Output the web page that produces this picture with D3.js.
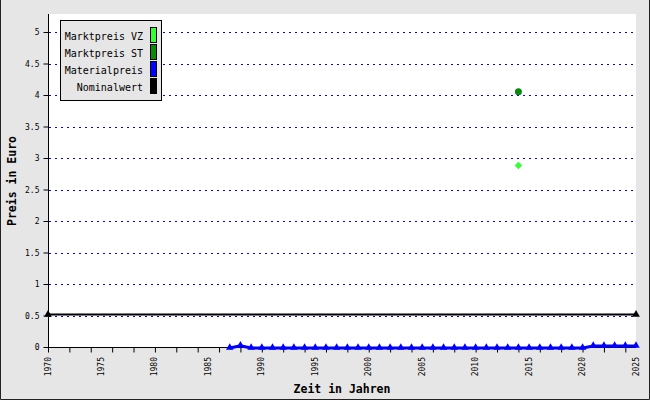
<!DOCTYPE html>
<html><head><meta charset="utf-8">
<script src="https://cdn.jsdelivr.net/npm/d3@7"></script>
<style>html,body{margin:0;padding:0;background:#fff}svg{display:block}</style>
</head><body>
<svg id="c" width="650" height="400"></svg>
<script>
// ---- data ----
const yTicks = [0, 0.5, 1, 1.5, 2, 2.5, 3, 3.5, 4, 4.5, 5];
const yTickLabels = ["0", "0.5", "1", "1.5", "2", "2.5", "3", "3.5", "4", "4.5", "5"];
const xLabelYears = [1970, 1975, 1980, 1985, 1990, 1995, 2000, 2005, 2010, 2015, 2020, 2025];
const xTickYears = [1970,1972,1974,1976,1978,1980,1982,1984,1986,1988,1990,1992,1994,1996,1998,2000,2002,2004,2006,2008,2010,2012,2014,2016,2018,2020,2022,2024];
const seriesNames = ["Marktpreis VZ", "Marktpreis ST", "Materialpreis", "Nominalwert"];
const seriesColors = ["#33ff33", "#0a8a0a", "#0000ff", "#000000"];
const vzYears = [2014];
const vzValues = [2.88];
const stYears = [2014];
const stValues = [4.05];
const matYears = [1987,1988,1989,1990,1991,1992,1993,1994,1995,1996,1997,1998,1999,2000,2001,2002,2003,2004,2005,2006,2007,2008,2009,2010,2011,2012,2013,2014,2015,2016,2017,2018,2019,2020,2021,2022,2023,2024,2025];
const matValues = [0.0,0.035,0.0,0.0,0.0,0.0,0.0,0.0,0.0,0.0,0.0,0.0,0.0,0.0,0.0,0.0,0.0,0.0,0.0,0.0,0.0,0.0,0.0,0.0,0.0,0.0,0.0,0.0,0.0,0.0,0.0,0.0,0.0,0.0,0.03,0.03,0.03,0.03,0.03];
const nomYears = [1970, 2025];
const nomValues = [0.5, 0.5];

// ---- drawing ----
const svg = d3.select("#c");
const W = 650, H = 400;
const mono = "'DejaVu Sans Mono', 'Liberation Mono', monospace";

svg.append("rect").attr("width", W).attr("height", H).attr("fill", "#e6e6e6");
svg.append("path").attr("d", `M0.5,0 V${H-0.5} H${W-0.5} V0`).attr("fill", "none").attr("stroke", "#222");

const x = d3.scaleLinear().domain([1970, 2025]).range([48, 636]);
const y = d3.scaleLinear().domain([0, 5.286]).range([347, 14]);

svg.append("rect").attr("x", 48).attr("y", 14).attr("width", 636 - 48).attr("height", 347 - 14).attr("fill", "#fff");

// gridlines
svg.append("g").selectAll("line").data(yTicks.filter(d => d > 0)).join("line")
  .attr("x1", 49).attr("x2", 636)
  .attr("y1", d => Math.round(y(d)) + 0.5).attr("y2", d => Math.round(y(d)) + 0.5)
  .attr("stroke", "#0000ff").attr("stroke-width", 1).attr("stroke-dasharray", "2,4")
  .attr("shape-rendering", "crispEdges");

// y axis
const yAxis = d3.axisLeft(y).tickValues(yTicks).tickSize(5).tickPadding(4)
  .tickFormat((d, i) => yTickLabels[i]);
const gy = svg.append("g").attr("transform", "translate(48.5,0)").call(yAxis);
gy.select(".domain").attr("stroke", "#000").attr("d", `M0,${y.range()[1]}V${y.range()[0]}`);
gy.selectAll(".tick line").attr("stroke", "#000");
gy.selectAll(".tick text").attr("font-family", mono).attr("font-size", 8).attr("fill", "#000");

// x axis
const xAxis = d3.axisBottom(x).tickValues(xTickYears).tickSize(5).tickFormat("");
const gx = svg.append("g").attr("transform", "translate(0,347.5)").call(xAxis);
gx.select(".domain").attr("stroke", "#000").attr("d", `M${x.range()[0]},0H${x.range()[1]}`);
gx.selectAll(".tick line").attr("stroke", "#000");
svg.append("g").selectAll("text").data(xLabelYears).join("text")
  .attr("transform", d => `translate(${x(d)},357) rotate(-90)`)
  .attr("dy", "0.32em")
  .attr("text-anchor", "end")
  .attr("font-family", mono).attr("font-size", 8).attr("fill", "#000")
  .text(d => d);

// axis titles
svg.append("text").attr("x", 342).attr("y", 393).attr("text-anchor", "middle")
  .attr("font-family", mono).attr("font-weight", "bold").attr("font-size", 11.5).attr("fill", "#000")
  .text("Zeit in Jahren");
svg.append("text").attr("transform", "translate(16,181) rotate(-90)").attr("text-anchor", "middle")
  .attr("font-family", mono).attr("font-weight", "bold").attr("font-size", 11.5).attr("fill", "#000")
  .text("Preis in Euro");

const line = d3.line().x(d => x(d[0])).y(d => y(d[1]));

// Nominalwert
const nom = nomYears.map((d, i) => [d, nomValues[i]]);
svg.append("path").datum(nom).attr("d", line).attr("fill", "none")
  .attr("stroke", seriesColors[3]).attr("stroke-width", 2).attr("transform", "translate(0,-1)");
svg.append("g").selectAll("path").data(nom).join("path")
  .attr("transform", d => `translate(${x(d[0])},${y(d[1]) - 1})`)
  .attr("d", d3.symbol(d3.symbolTriangle, 26)).attr("fill", seriesColors[3]);

// Materialpreis
const mat = matYears.map((d, i) => [d, matValues[i]]);
svg.append("path").datum(mat).attr("d", line).attr("fill", "none")
  .attr("stroke", seriesColors[2]).attr("stroke-width", 3).attr("transform", "translate(0,1)");
svg.append("g").selectAll("path").data(mat).join("path")
  .attr("transform", d => `translate(${x(d[0])},${y(d[1]) + 0.5})`)
  .attr("d", d3.symbol(d3.symbolTriangle, 24)).attr("fill", seriesColors[2]);

// Marktpreis ST
svg.append("g").selectAll("circle").data(stYears.map((d, i) => [d, stValues[i]])).join("circle")
  .attr("cx", d => x(d[0])).attr("cy", d => y(d[1])).attr("r", 3.5).attr("fill", seriesColors[1]);

// Marktpreis VZ
svg.append("g").selectAll("path").data(vzYears.map((d, i) => [d, vzValues[i]])).join("path")
  .attr("transform", d => `translate(${x(d[0])},${y(d[1])})`)
  .attr("d", d3.symbol(d3.symbolDiamond2, 36)).attr("fill", seriesColors[0]);

// legend
const lg = svg.append("g");
lg.append("rect").attr("x", 60.5).attr("y", 20.5).attr("width", 101).attr("height", 80)
  .attr("fill", "#e6e6e6").attr("stroke", "#000");
seriesNames.forEach((name, i) => {
  const cy = 36 + i * 17;
  lg.append("text").attr("x", 143).attr("y", cy + 3.5).attr("text-anchor", "end")
    .attr("font-family", mono).attr("font-size", 10).attr("fill", "#000").text(name);
  lg.append("rect").attr("x", 150.5).attr("y", cy - 8.5).attr("width", 6).attr("height", 15)
    .attr("fill", seriesColors[i]).attr("stroke", "#000");
});
</script>
</body></html>
